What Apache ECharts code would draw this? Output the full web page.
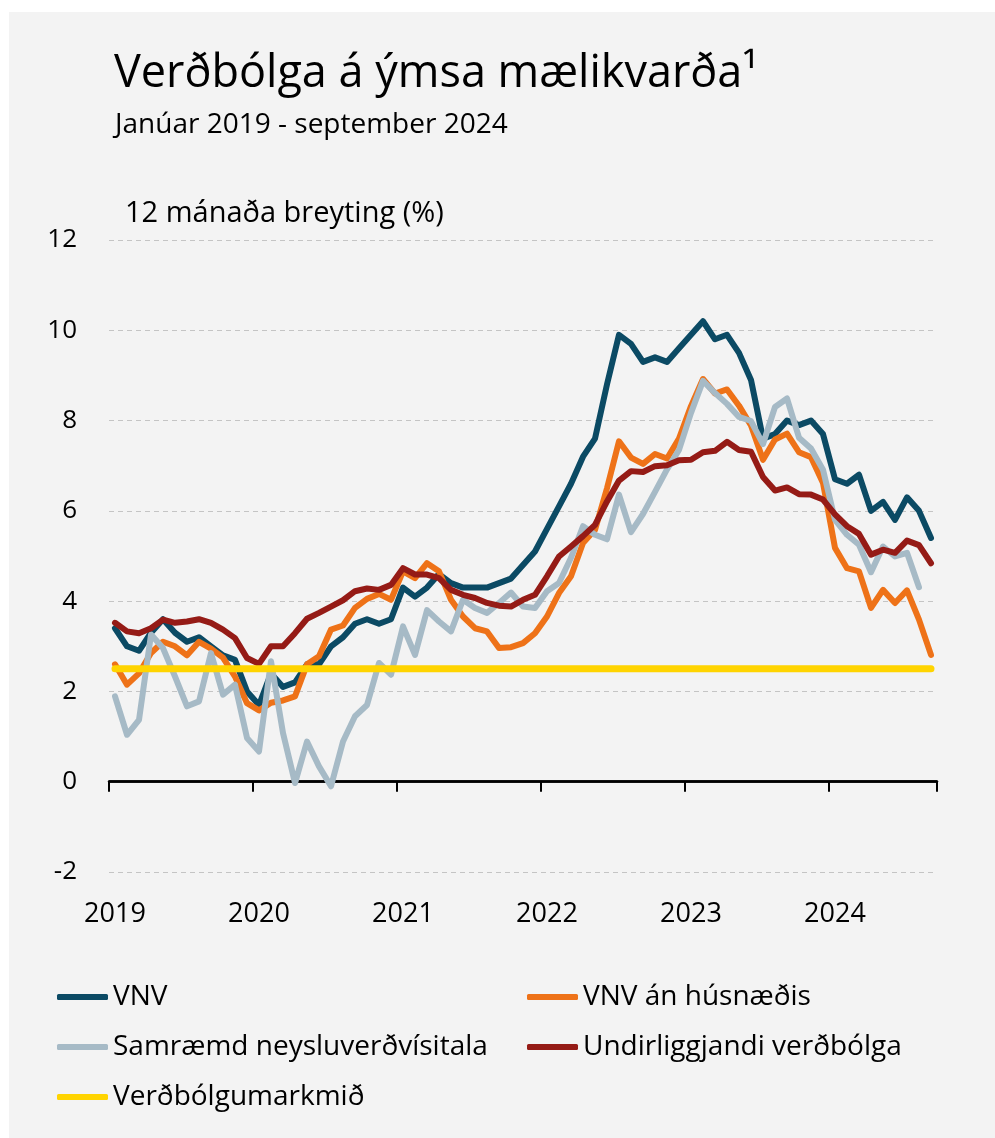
<!DOCTYPE html>
<html lang="is">
<head>
<meta charset="UTF-8">
<title>Verðbólga á ýmsa mælikvarða</title>
<script src="https://cdn.jsdelivr.net/npm/echarts@6/dist/echarts.min.js"></script>
<style>
  html, body { margin: 0; padding: 0; background: #fff; }
  #chart { position: absolute; left: 9px; top: 12px; width: 986px; height: 1126px; background: #f3f3f3; }
</style>
</head>
<body>
<div id="chart"></div>
<script>
const years = ['2019', '2020', '2021', '2022', '2023', '2024'];
const monthsInLastYear = 9; // til og með september 2024

// 12 mánaða breyting (%)
const vnv = [3.4, 3.0, 2.9, 3.3, 3.6, 3.3, 3.1, 3.2, 3.0, 2.8, 2.7, 2.0,
  1.7, 2.4, 2.1, 2.2, 2.6, 2.6, 3.0, 3.2, 3.5, 3.6, 3.5, 3.6,
  4.3, 4.1, 4.3, 4.6, 4.4, 4.3, 4.3, 4.3, 4.4, 4.5, 4.8, 5.1,
  5.6, 6.1, 6.6, 7.2, 7.6, 8.8, 9.9, 9.7, 9.3, 9.4, 9.3, 9.6,
  9.9, 10.2, 9.8, 9.9, 9.5, 8.9, 7.6, 7.7, 8.0, 7.9, 8.0, 7.7,
  6.7, 6.6, 6.8, 6.0, 6.2, 5.8, 6.3, 6.0, 5.4];
const vnvAnHusnaedis = [2.6, 2.15, 2.4, 2.85, 3.1, 3.0, 2.8, 3.1, 2.95, 2.75, 2.33, 1.74,
  1.58, 1.75, 1.8, 1.89, 2.6, 2.78, 3.37, 3.46, 3.85, 4.05, 4.16, 4.03,
  4.66, 4.51, 4.84, 4.66, 4.03, 3.66, 3.4, 3.33, 2.96, 2.98, 3.07, 3.29,
  3.66, 4.18, 4.55, 5.29, 5.58, 6.5, 7.54, 7.18, 7.04, 7.26, 7.16, 7.6,
  8.32, 8.92, 8.6, 8.69, 8.33, 7.89, 7.13, 7.58, 7.71, 7.3, 7.19, 6.62,
  5.18, 4.73, 4.66, 3.85, 4.25, 3.96, 4.24, 3.59, 2.81];
const samraemd = [1.89, 1.04, 1.37, 3.26, 2.96, 2.33, 1.67, 1.78, 2.85, 1.93, 2.15, 0.97,
  0.67, 2.67, 1.08, -0.03, 0.89, 0.34, -0.1, 0.89, 1.45, 1.7, 2.63, 2.37,
  3.44, 2.81, 3.8, 3.55, 3.33, 4.03, 3.85, 3.74, 3.96, 4.19, 3.88, 3.85,
  4.22, 4.4, 4.96, 5.66, 5.47, 5.37, 6.36, 5.53, 5.93, 6.42, 6.92, 7.35,
  8.17, 8.88, 8.61, 8.37, 8.08, 7.99, 7.48, 8.3, 8.49, 7.62, 7.38, 6.91,
  5.8, 5.47, 5.25, 4.64, 5.21, 4.99, 5.07, 4.31, null];
const undirliggjandi = [3.52, 3.33, 3.29, 3.4, 3.59, 3.52, 3.55, 3.6, 3.52, 3.37, 3.18, 2.74,
  2.61, 3.0, 3.0, 3.29, 3.61, 3.74, 3.88, 4.02, 4.22, 4.28, 4.25, 4.36,
  4.73, 4.59, 4.59, 4.51, 4.25, 4.14, 4.07, 3.96, 3.9, 3.88, 4.03, 4.14,
  4.55, 4.99, 5.21, 5.44, 5.69, 6.21, 6.67, 6.88, 6.86, 6.99, 7.01, 7.12,
  7.13, 7.3, 7.33, 7.53, 7.35, 7.31, 6.75, 6.45, 6.52, 6.37, 6.36, 6.25,
  5.92, 5.66, 5.49, 5.03, 5.14, 5.07, 5.34, 5.24, 4.84];
const markmid = [2.5, 2.5, 2.5, 2.5, 2.5, 2.5, 2.5, 2.5, 2.5, 2.5, 2.5, 2.5,
  2.5, 2.5, 2.5, 2.5, 2.5, 2.5, 2.5, 2.5, 2.5, 2.5, 2.5, 2.5,
  2.5, 2.5, 2.5, 2.5, 2.5, 2.5, 2.5, 2.5, 2.5, 2.5, 2.5, 2.5,
  2.5, 2.5, 2.5, 2.5, 2.5, 2.5, 2.5, 2.5, 2.5, 2.5, 2.5, 2.5,
  2.5, 2.5, 2.5, 2.5, 2.5, 2.5, 2.5, 2.5, 2.5, 2.5, 2.5, 2.5,
  2.5, 2.5, 2.5, 2.5, 2.5, 2.5, 2.5, 2.5, 2.5];

const months = [];
years.forEach((y, yi) => {
  const n = yi === years.length - 1 ? monthsInLastYear : 12;
  for (let m = 1; m <= n; m++) months.push(y + '-' + String(m).padStart(2, '0'));
});

const font = '"Open Sans", sans-serif';
const chart = echarts.init(document.getElementById('chart'));

function line(name, data, color, z, width) {
  return {
    name: name, type: 'line', data: data, z: z,
    showSymbol: false, symbol: 'none', animation: false,
    itemStyle: { color: color },
    lineStyle: { color: color, width: width || 6, cap: 'round', join: 'round' }
  };
}

const legendText = { fontFamily: font, fontSize: 28, color: '#000', lineHeight: 30 };

chart.setOption({
  backgroundColor: 'transparent',
  animation: false,
  title: [
    { text: 'Verðbólga á ýmsa mælikvarða¹', left: 100, top: 35,
      textStyle: { fontFamily: font, fontSize: 45, fontWeight: 'normal', color: '#000' } },
    { text: 'Janúar 2019 - september 2024', left: 101, top: 94,
      textStyle: { fontFamily: font, fontSize: 28, fontWeight: 'normal', color: '#000' } },
    { text: '12 mánaða breyting (%)', left: 111, top: 182,
      textStyle: { fontFamily: font, fontSize: 29, fontWeight: 'normal', color: '#000' } }
  ],
  legend: [
    { left: 43, top: 965, orient: 'vertical', itemGap: 20, itemWidth: 51, itemHeight: 6,
      icon: 'roundRect', textStyle: legendText,
      data: ['VNV', 'Samræmd neysluverðvísitala', 'Verðbólgumarkmið'] },
    { left: 513, top: 965, orient: 'vertical', itemGap: 20, itemWidth: 51, itemHeight: 6,
      icon: 'roundRect', textStyle: legendText,
      data: ['VNV án húsnæðis', 'Undirliggjandi verðbólga'] }
  ],
  grid: { left: 100, top: 228, width: 828, height: 632 },
  xAxis: {
    type: 'category', data: months, boundaryGap: true,
    axisLine: { lineStyle: { color: '#000', width: 2.5 } },
    axisTick: { show: true, interval: (i) => i % 12 === 0, length: 10, lineStyle: { color: '#000', width: 2 } },
    axisLabel: { interval: 11, margin: 29, fontFamily: font, fontSize: 27, color: '#000',
      formatter: v => v.slice(0, 4) },
    splitLine: { show: false }
  },
  yAxis: {
    type: 'value', min: -2, max: 12, interval: 2,
    axisLine: { show: false }, axisTick: { show: false },
    axisLabel: { margin: 32, fontFamily: font, fontSize: 26, color: '#000' },
    splitLine: { lineStyle: { color: '#c4c4c4', type: [5, 4], width: 1 } }
  },
  series: [
    Object.assign(line('VNV', vnv, '#0b4a64', 3), {
      markLine: { silent: true, symbol: 'none', label: { show: false }, animation: false,
        lineStyle: { color: '#000', width: 2.5, type: 'solid' }, data: [{ yAxis: 0 }] }
    }),
    line('VNV án húsnæðis', vnvAnHusnaedis, '#ee7218', 4),
    line('Samræmd neysluverðvísitala', samraemd, '#a6bac6', 5),
    line('Undirliggjandi verðbólga', undirliggjandi, '#951b16', 6),
    line('Verðbólgumarkmið', markmid, '#ffd400', 7, 7)
  ]
});
</script>
</body>
</html>
